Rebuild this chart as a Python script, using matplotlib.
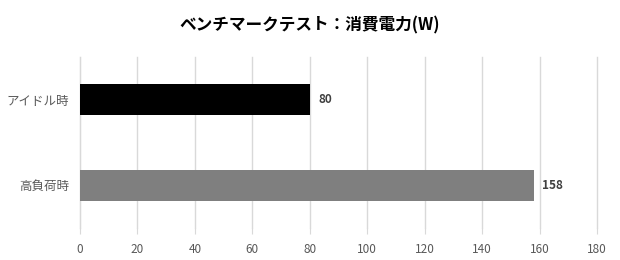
import matplotlib
matplotlib.use("Agg")
import matplotlib.pyplot as plt

plt.rcParams['font.family'] = ['Noto Sans CJK JP', 'DejaVu Sans']

categories = ["アイドル時", "高負荷時"]
values = [80, 158]
colors = ["#000000", "#7f7f7f"]
xticks = [0, 20, 40, 60, 80, 100, 120, 140, 160, 180]
title = "ベンチマークテスト：消費電力(W)"

fig = plt.figure(figsize=(6.2, 2.6), dpi=100)
ax = fig.add_axes([80/620, 32/260, 517/620, 171/260])

ypos = list(range(len(categories)))
bars = ax.barh(ypos, values, height=0.36, color=colors, zorder=3)
ax.set_ylim(len(categories) - 0.5, -0.5)
ax.set_xlim(0, 180)
ax.set_xticks(xticks)
ax.set_xticklabels([str(t) for t in xticks])
ax.set_yticks(ypos)
ax.set_yticklabels(categories)

for b, v in zip(bars, values):
    ax.annotate(str(v), (b.get_width(), b.get_y() + b.get_height() / 2),
                xytext=(6, 0), textcoords="offset points", va="center", ha="left",
                fontsize=8.5, fontweight="bold", color="#404040")

ax.grid(axis="x", color="#d9d9d9", linewidth=1, zorder=0)
for gl in ax.get_xgridlines():
    gl.set_clip_on(False)
for s in ["top", "right", "bottom"]:
    ax.spines[s].set_visible(False)
ax.spines["left"].set_color("#d9d9d9")
ax.tick_params(axis="x", length=4, color="#d9d9d9", labelcolor="#595959", labelsize=8.5, pad=7)
ax.tick_params(axis="y", length=0, labelcolor="#595959", labelsize=9, pad=8)

fig.text(0.5, 1 - 25/260, title, ha="center", va="center", fontsize=12, fontweight="bold", color="#000000")

fig.savefig("out.png", dpi=100)
